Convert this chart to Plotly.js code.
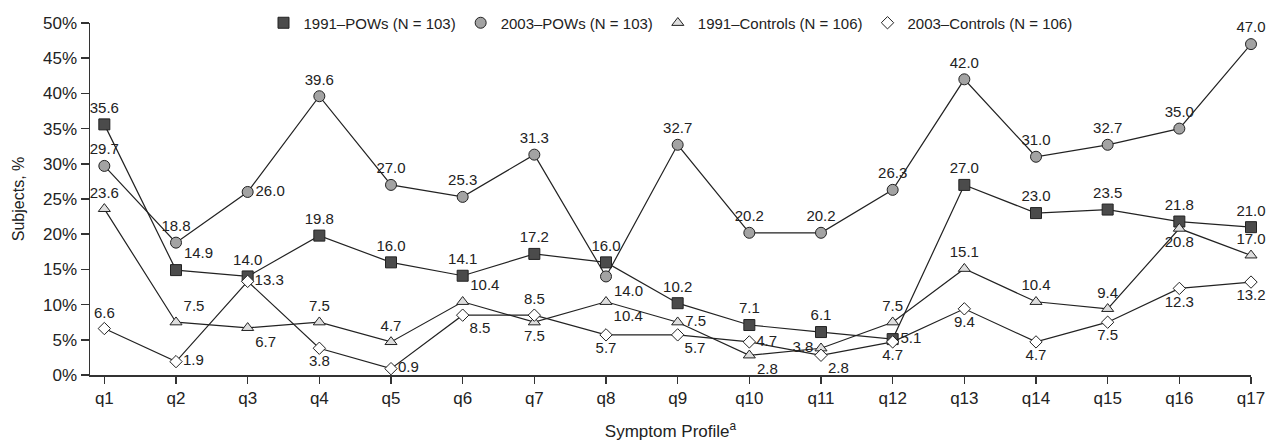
<!DOCTYPE html>
<html>
<head>
<meta charset="utf-8">
<script src="https://cdn.plot.ly/plotly-3.0.1.min.js"></script>
<style>html,body{margin:0;padding:0;background:#fff;}#chart{width:1266px;height:444px;}</style>
</head>
<body>
<div id="chart"></div>
<script>
var categories = ["q1","q2","q3","q4","q5","q6","q7","q8","q9","q10","q11","q12","q13","q14","q15","q16","q17"];
var pows1991 = [35.6,14.9,14.0,19.8,16.0,14.1,17.2,16.0,10.2,7.1,6.1,5.1,27.0,23.0,23.5,21.8,21.0];
var pows2003 = [29.7,18.8,26.0,39.6,27.0,25.3,31.3,14.0,32.7,20.2,20.2,26.3,42.0,31.0,32.7,35.0,47.0];
var controls1991 = [23.6,7.5,6.7,7.5,4.7,10.4,7.5,10.4,7.5,2.8,3.8,7.5,15.1,10.4,9.4,20.8,17.0];
var controls2003 = [6.6,1.9,13.3,3.8,0.9,8.5,8.5,5.7,5.7,4.7,2.8,4.7,9.4,4.7,7.5,12.3,13.2];
var seriesNames = ["1991\u2013POWs (N = 103)","2003\u2013POWs (N = 103)","1991\u2013Controls (N = 106)","2003\u2013Controls (N = 106)"];

var posPows1991 = ["top center","top right","top center","top center","top center","top center","top center","top center","top center","top center","top center","middle right","top center","top center","top center","top center","top center"];
var posPows2003 = ["top center","top center","middle right","top center","top center","top center","top center","bottom right","top center","top center","top center","top center","top center","top center","top center","top center","top center"];
var posCtl1991 = ["top center","top right","bottom right","top center","top center","top right","bottom center","bottom right","middle right","bottom right","middle left","top center","top center","top center","top center","bottom center","top center"];
var posCtl2003 = ["top center","middle right","middle right","bottom center","middle right","bottom right","top center","bottom center","bottom right","middle right","bottom right","bottom center","bottom center","bottom center","bottom center","bottom center","bottom center"];

function fmt(arr){return arr.map(function(v){return v.toFixed(1);});}
var lineStyle = {color:"#222", width:1.2};
var txtFont = {family:"Liberation Sans, Arial, sans-serif", size:15, color:"#222"};
var styles = [
  {symbol:"square", size:11, color:"#4b4b4b", line:{color:"#222", width:1}},
  {symbol:"circle", size:11, color:"#a3a3a3", line:{color:"#222", width:1}},
  {symbol:"triangle-up", size:10.5, color:"#dedede", line:{color:"#222", width:1}},
  {symbol:"diamond", size:9.5, color:"#ffffff", line:{color:"#222", width:1}}
];
var data = [pows1991, pows2003, controls1991, controls2003];
var pos = [posPows1991, posPows2003, posCtl1991, posCtl2003];
var traces = [];
for (var i=0;i<4;i++){
  traces.push({x:categories, y:data[i], type:"scatter", mode:"lines+markers+text", line:lineStyle,
    marker:styles[i], text:fmt(data[i]), textposition:pos[i], textfont:txtFont,
    showlegend:false, cliponaxis:false, hoverinfo:"skip"});
}
for (var j=0;j<4;j++){
  traces.push({x:[null], y:[null], type:"scatter", mode:"markers", marker:styles[j],
    name:seriesNames[j], showlegend:true});
}
var layout = {
  width:1266, height:444,
  margin:{l:90, r:15, t:23, b:69, autoexpand:false},
  paper_bgcolor:"#fff", plot_bgcolor:"#fff",
  font:{family:"Liberation Sans, Arial, sans-serif", color:"#222"},
  xaxis:{type:"category", range:[-0.2,16], showline:true, linecolor:"#333", linewidth:1.5,
    ticks:"outside", ticklen:7, tickcolor:"#333", tickwidth:1.5, showgrid:false, zeroline:false,
    tickfont:{size:17, color:"#222"}, automargin:false,
    title:{text:"Symptom Profile<sup>a</sup>", font:{size:17, color:"#222"}, standoff:18}},
  yaxis:{range:[0,50], dtick:5, ticksuffix:"%", showline:true, linecolor:"#333", linewidth:1.5,
    ticks:"outside", ticklen:8, tickcolor:"#333", tickwidth:1.5, showgrid:false, zeroline:false,
    tickfont:{size:17, color:"#222"}, automargin:false,
    title:{text:"Subjects, %", font:{size:16, color:"#222"}, standoff:14}},
  legend:{orientation:"h", x:0.5, xanchor:"center", y:1.0, yanchor:"middle",
    bgcolor:"rgba(0,0,0,0)", font:{size:15, color:"#222"}, itemwidth:30, tracegroupgap:0}
};
Plotly.newPlot("chart", traces, layout, {displayModeBar:false, staticPlot:true});
</script>
</body>
</html>
